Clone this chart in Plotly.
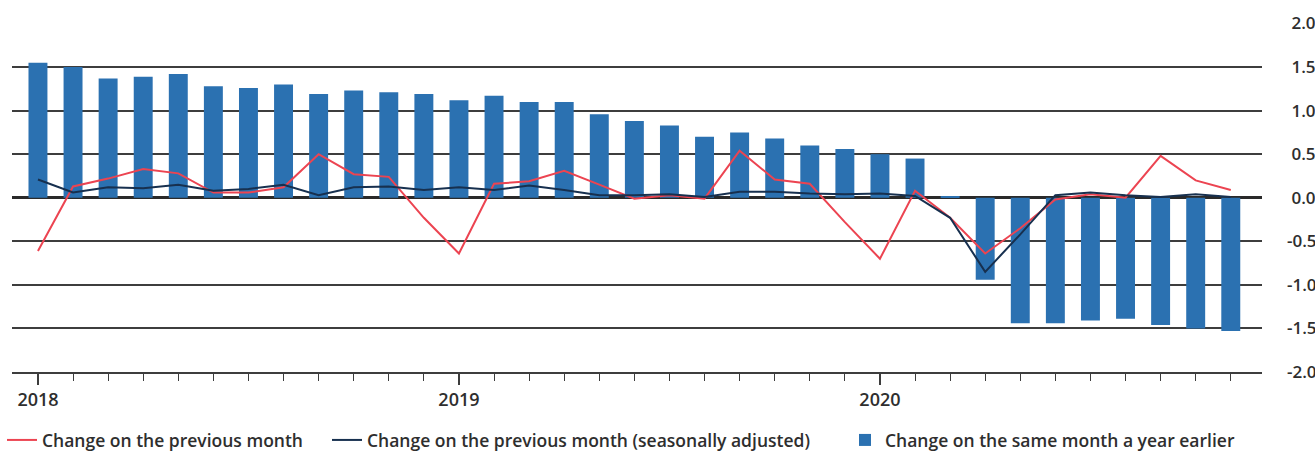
import plotly.graph_objects as go

months = [f"{y}-{m:02d}" for y in (2018, 2019, 2020) for m in range(1, 13)][:35]

yoy = [1.55, 1.50, 1.37, 1.39, 1.42, 1.28, 1.26, 1.30, 1.19, 1.23, 1.21, 1.19,
       1.12, 1.17, 1.10, 1.10, 0.96, 0.88, 0.83, 0.70, 0.75, 0.68, 0.60, 0.56,
       0.50, 0.45, 0.01, -0.94, -1.44, -1.44, -1.41, -1.39, -1.46, -1.50, -1.53]

mom = [-0.61, 0.13, 0.22, 0.33, 0.28, 0.06, 0.06, 0.12, 0.50, 0.27, 0.24, -0.23,
       -0.64, 0.16, 0.19, 0.31, 0.15, -0.01, 0.03, -0.01, 0.54, 0.21, 0.16, -0.28,
       -0.70, 0.08, -0.23, -0.64, -0.35, -0.02, 0.04, 0.00, 0.48, 0.20, 0.09]

mom_sa = [0.21, 0.06, 0.12, 0.11, 0.15, 0.08, 0.10, 0.15, 0.03, 0.12, 0.13, 0.09,
          0.12, 0.09, 0.14, 0.09, 0.03, 0.03, 0.04, 0.01, 0.07, 0.07, 0.05, 0.04,
          0.05, 0.02, -0.23, -0.85, -0.42, 0.03, 0.06, 0.03, 0.01, 0.04, 0.01]

year_ticks = ["2018", "2019", "2020"]
y_ticks = [2.0, 1.5, 1.0, 0.5, 0.0, -0.5, -1.0, -1.5, -2.0]

x = list(range(len(months)))
year_pos = [months.index(f"{y}-01") for y in year_ticks]
y_text = [("\u00a0" if v >= 0 else "") + f"{v:.1f}" for v in y_ticks]

FONT = "Open Sans"
TXT = "#2e2e2e"
GRID = "#3d3d3d"

fig = go.Figure()
fig.add_trace(go.Scatter(x=x, y=mom, mode="lines", name="Change on the previous month",
                         line=dict(color="#ec4451", width=2), legend="legend"))
fig.add_trace(go.Scatter(x=x, y=mom_sa, mode="lines",
                         name="Change on the previous month (seasonally adjusted)",
                         line=dict(color="#17304f", width=2), legend="legend2"))
fig.add_trace(go.Bar(x=x, y=yoy, name="Change on the same month a year earlier",
                     marker=dict(color="#2b71b1", line=dict(width=0)), width=0.54,
                     legend="legend3"))

legend_common = dict(orientation="h", xanchor="left", xref="container",
                     y=-0.195, yanchor="middle", yref="paper",
                     font=dict(size=17.5, color=TXT, weight=600), traceorder="normal",
                     bgcolor="rgba(0,0,0,0)")

fig.update_layout(
    width=1315, height=453,
    margin=dict(l=12, r=53, t=23, b=81, autoexpand=False),
    paper_bgcolor="white", plot_bgcolor="white",
    font=dict(family=FONT, size=17, color=TXT, weight=600),
    legend=dict(x=2 / 1315, **legend_common),
    legend2=dict(x=327 / 1315, **legend_common),
    legend3=dict(x=845 / 1315, **legend_common),
    showlegend=True,
    bargap=0.46,
)
fig.update_xaxes(
    range=[-0.74, 34.89], tickmode="array", tickvals=year_pos, ticktext=year_ticks,
    ticks="outside", ticklen=11, tickwidth=2, tickcolor=GRID,
    minor=dict(dtick=1, tick0=0, ticks="outside", ticklen=7, tickwidth=1.2, tickcolor=GRID,
               showgrid=False),
    showgrid=False, zeroline=False, showline=True, linecolor=GRID, linewidth=1.5,
    tickfont=dict(size=18, color=TXT, weight=600), fixedrange=True,
)
fig.update_yaxes(
    range=[-2.0, 2.006], side="right", tickmode="array", tickvals=y_ticks, ticktext=y_text,
    showgrid=True, gridcolor=GRID, gridwidth=1.5,
    zeroline=True, zerolinecolor="#2a2a2a", zerolinewidth=3,
    showline=False, ticks="", ticklabelstandoff=24, automargin=False,
    tickfont=dict(size=17, color=TXT, weight=600), fixedrange=True,
)

fig.write_html("out.html")
